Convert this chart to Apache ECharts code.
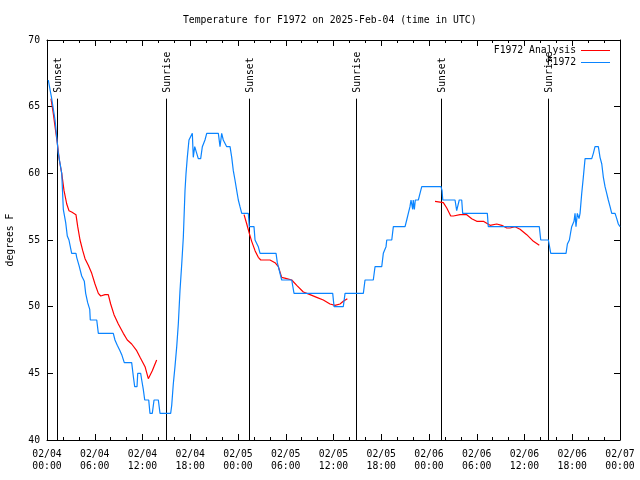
<!DOCTYPE html>
<html><head><meta charset="utf-8">
<script src="https://cdn.jsdelivr.net/npm/echarts@6/dist/echarts.min.js"></script>
<style>html,body{margin:0;padding:0;background:#fff}#c{width:640px;height:480px}</style>
</head><body><div id="c"></div>
<script>
// hours since 2025-02-04 00:00 UTC
const obsHours = [0.16,0.59,1.01,1.29,1.42,1.85,2.05,2.35,2.55,2.76,3.10,3.64,3.73,4.02,4.36,4.69,4.86,5.11,5.37,5.44,6.25,6.45,8.33,8.54,8.83,9.17,9.39,9.71,10.64,10.84,11.02,11.31,11.40,11.77,11.90,12.10,12.28,12.78,12.94,13.23,13.45,13.99,14.20,15.54,15.67,15.87,16.08,16.30,16.50,16.71,16.93,17.13,17.34,17.47,17.63,17.84,18.06,18.26,18.38,18.56,18.81,19.01,19.31,19.52,19.64,19.85,20.07,21.53,21.74,21.95,22.15,22.37,22.58,23.00,23.21,23.41,23.62,23.84,24.04,24.25,24.47,25.30,25.42,26.01,26.14,26.35,26.55,26.77,28.78,28.94,29.19,29.49,30.75,31.04,35.90,36.07,37.23,37.45,39.75,39.96,41.00,41.22,42.06,42.26,42.60,42.69,43.32,43.52,44.99,45.20,45.40,45.61,45.74,45.95,46.02,46.16,46.28,46.66,46.87,47.09,49.51,49.64,49.73,51.27,51.48,51.68,51.80,52.11,52.23,55.33,55.45,61.86,62.04,63.00,63.30,65.22,65.39,65.64,65.81,65.93,66.22,66.35,66.47,66.64,66.85,66.98,67.19,67.39,67.61,68.45,68.65,68.86,69.28,69.49,69.71,69.91,70.12,70.33,70.53,70.75,70.96,71.38,71.59,71.79,72.00];
const obsTemps = [67,65.6,64,62.3,61.5,60,57.3,56.3,55.3,55,54,54,53.7,53.1,52.3,51.9,51,50.3,49.8,49,49,48,48,47.5,47.1,46.7,46.4,45.8,45.8,44.8,44,44,45,45,44.5,43.8,43,43,42,42,43,43,42,42,42.6,44.2,45.5,47,48.7,51.2,53.2,55.2,58.7,60,61.2,62.5,62.5,63,61.2,62,62,61.1,61.1,62,62,62.5,63,63,62,63,62.5,62.5,62,62,61.2,60.2,59.5,58.7,58,57.5,57,57,56,56,55,55,54.5,54,54,53.3,52.7,52,52,51,51,50,50,51,51,52,52,53,53,54,54.5,55,55,56,56,56.5,57,57.5,58,57.3,58,57.3,58,58,58.5,59,59,58.7,58,58,57.2,57.2,58,58,57,57,56,56,55,55,54,54,54.7,55,55.6,56,56.4,57,56,57,56.6,57,58.5,59.7,61.1,61.1,61.5,62,62,61.2,60.7,59.7,59,58.5,58,57.5,57,57,56.6,56.2,56];

const anaHours1 = [0.50,0.79,1.01,1.29,1.55,1.85,2.14,2.48,2.76,3.10,3.64,3.86,4.15,4.49,4.78,5.19,5.62,6.03,6.45,6.75,7.29,7.70,8.00,8.42,8.96,9.59,10.09,10.64,11.27,11.69,12.32,12.73,13.23,13.78];
const anaTemps1 = [65.6,64.5,63.5,62.3,61,60,58.7,57.7,57.2,57.1,56.9,56,55,54.2,53.6,53.1,52.5,51.7,51,50.8,50.9,50.9,50.2,49.4,48.7,48,47.5,47.2,46.7,46.2,45.5,44.6,45.2,46];
const anaHours2 = [24.76,25.10,25.42,25.72,26.14,26.55,26.86,28.02,28.65,29.07,29.49,30.12,30.75,31.38,32.21,33.05,33.89,34.72,35.56,36.19,36.82,37.23,37.74];
const anaTemps2 = [56.9,56.2,55.5,54.9,54.2,53.7,53.5,53.5,53.3,53,52.2,52.1,52,51.6,51.1,50.9,50.7,50.5,50.2,50.1,50.2,50.4,50.6];
const anaHours3 = [48.76,49.80,50.23,50.73,51.06,51.90,52.74,53.37,54.00,54.83,55.67,56.51,57.14,57.77,58.18,58.81,59.44,60.28,61.12,61.86];
const anaTemps3 = [57.9,57.8,57.4,56.8,56.8,56.9,56.9,56.6,56.4,56.4,56.1,56.2,56.1,55.9,55.9,56,55.8,55.4,54.9,54.6];

const sunHours = [1.30,14.91,25.42,38.87,49.55,63.00];
const sunLabels = ['Sunset','Sunrise','Sunset','Sunrise','Sunset','Sunrise'];
const sunLineTop = 65.6;

const xTickLabels = ['02/04\n00:00','02/04\n06:00','02/04\n12:00','02/04\n18:00','02/05\n00:00','02/05\n06:00','02/05\n12:00','02/05\n18:00','02/06\n00:00','02/06\n06:00','02/06\n12:00','02/06\n18:00','02/07\n00:00'];
const yMin = 40, yMax = 70, yStep = 5;

const FONT = 'DejaVu Sans Mono';
const zip = (a, b) => a.map((v, i) => [v, b[i]]);

const chart = echarts.init(document.getElementById('c'), null, {renderer: 'canvas'});
const axisBase = {
  min: 0, max: 72, interval: 6,
  axisLine: {show: true, onZero: false, lineStyle: {color: '#000', width: 1}},
  axisTick: {show: true, inside: true, length: 6, lineStyle: {color: '#000'}},
  minorTick: {show: true, splitNumber: 3, length: 3, lineStyle: {color: '#000'}},
  splitLine: {show: false}
};
const anaStyle = {type: 'line', name: 'F1972 Analysis', symbol: 'none', lineStyle: {color: '#ff0000', width: 1.2}, itemStyle: {color: '#ff0000'}, z: 3};
const legendBase = {right: 30, align: 'right', padding: 0, itemWidth: 29, itemHeight: 1, icon: 'rect',
  textStyle: {fontFamily: FONT, fontSize: 9.75, color: '#000'}, selectedMode: false};
chart.setOption({
  animation: false,
  backgroundColor: '#fff',
  title: {text: 'Temperature for F1972 on 2025-Feb-04 (time in UTC)', left: 183, top: 15, padding: 0,
    textStyle: {fontFamily: FONT, fontSize: 9.75, fontWeight: 'normal', color: '#000'}},
  grid: {left: 47, right: 20, top: 40, bottom: 40, containLabel: false, outerBoundsMode: 'none'},
  legend: [
    Object.assign({data: ['F1972 Analysis'], top: 45.5}, legendBase),
    Object.assign({data: ['F1972'], top: 57.5}, legendBase)
  ],
  xAxis: [
    Object.assign({type: 'value', position: 'bottom',
      axisLabel: {show: true, margin: 8, lineHeight: 12, fontFamily: FONT, fontSize: 9.75, color: '#000',
        formatter: v => xTickLabels[Math.round(v / 6)] || ''}}, axisBase),
    Object.assign({type: 'value', position: 'top', axisLabel: {show: false}}, axisBase)
  ],
  yAxis: [
    {type: 'value', min: yMin, max: yMax, interval: yStep, position: 'left',
      name: 'degrees F', nameLocation: 'middle', nameGap: 32,
      nameTextStyle: {fontFamily: FONT, fontSize: 9.75, color: '#000'},
      axisLine: {show: true, onZero: false, lineStyle: {color: '#000'}},
      axisTick: {show: true, inside: true, length: 6, lineStyle: {color: '#000'}},
      axisLabel: {margin: 7, fontFamily: FONT, fontSize: 9.75, color: '#000'},
      splitLine: {show: false}},
    {type: 'value', min: yMin, max: yMax, interval: yStep, position: 'right',
      axisLine: {show: true, onZero: false, lineStyle: {color: '#000'}},
      axisTick: {show: true, inside: true, length: 6, lineStyle: {color: '#000'}},
      axisLabel: {show: false}, splitLine: {show: false}}
  ],
  series: [
    {type: 'custom', name: 'sun', xAxisIndex: 0, yAxisIndex: 0, silent: true, z: 2,
      data: sunHours.map(h => [h]),
      renderItem: function (params, api) {
        const x = api.value(0);
        const b = api.coord([x, yMin]);
        const t = api.coord([x, sunLineTop]);
        const px = Math.round(b[0]) + 0.5;
        return {type: 'group', children: [
          {type: 'line', shape: {x1: px, y1: b[1], x2: px, y2: t[1]}, style: {stroke: '#000', lineWidth: 1}},
          {type: 'text', x: px + 1, y: t[1] - 6, rotation: Math.PI / 2,
            style: {text: sunLabels[params.dataIndex], fill: '#000', font: '9.75px "' + FONT + '"',
              align: 'left', verticalAlign: 'middle'}}
        ]};
      }},
    Object.assign({data: zip(anaHours1, anaTemps1)}, anaStyle),
    Object.assign({data: zip(anaHours2, anaTemps2)}, anaStyle),
    Object.assign({data: zip(anaHours3, anaTemps3)}, anaStyle),
    {type: 'line', name: 'F1972', symbol: 'none', data: zip(obsHours, obsTemps),
      lineStyle: {color: '#0a84ff', width: 1.2}, itemStyle: {color: '#0a84ff'}, z: 4}
  ]
});
</script></body></html>
